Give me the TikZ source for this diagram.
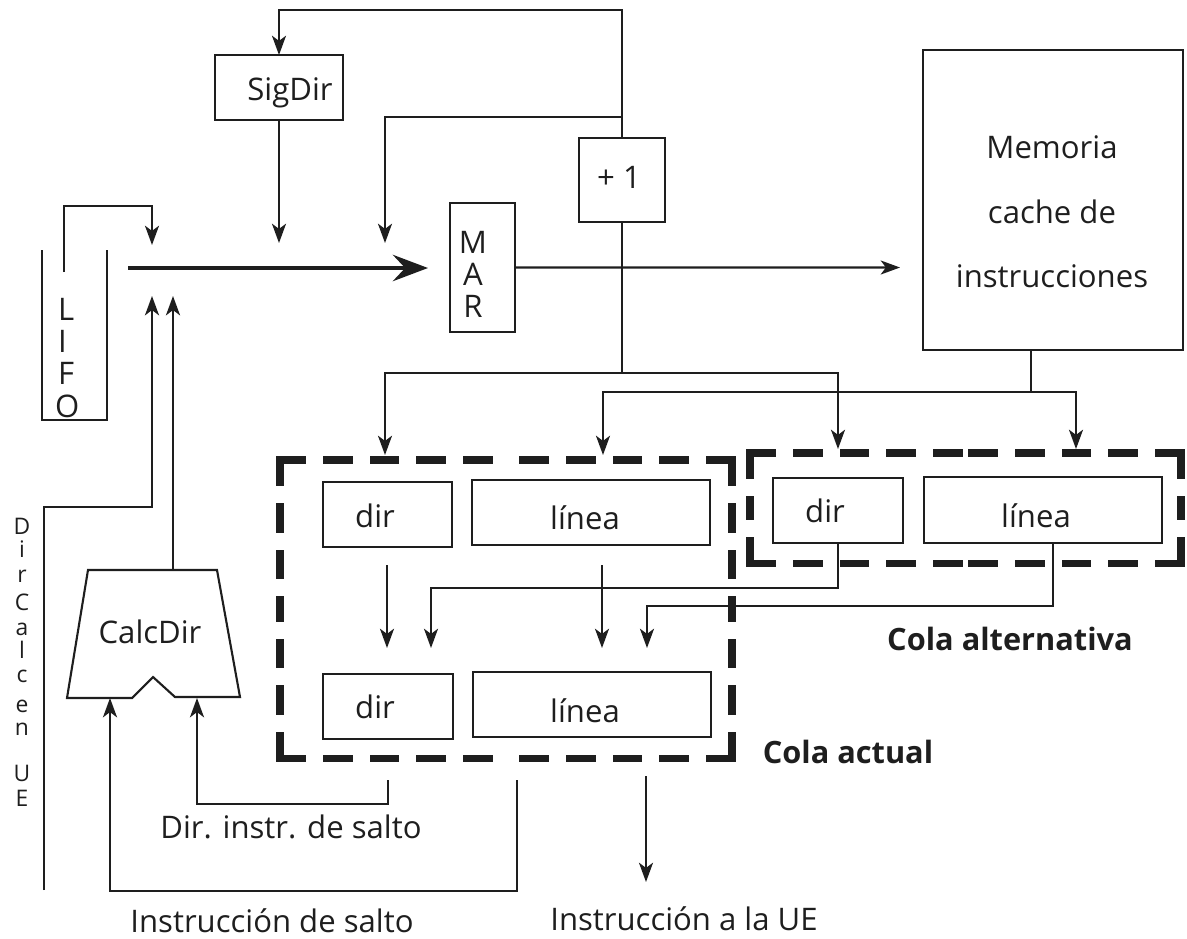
\documentclass[tikz,border=0pt]{standalone}
\usepackage{fontspec}
\setmainfont{Open Sans}
\usetikzlibrary{arrows.meta,fit,calc}
\definecolor{ink}{HTML}{1E1E1E}
\begin{document}
\begin{tikzpicture}[x=0.02cm,y=-0.02cm,
  every node/.style={font=\fontsize{17.7}{20}\selectfont, text=ink, inner sep=0pt, outer sep=0pt},
  lbl/.style={anchor=base},
  boldlbl/.style={anchor=base, font=\fontsize{17.5}{20}\selectfont\bfseries},
  vlet/.style={font=\fontsize{13}{15}\selectfont},
  wire/.style={draw=ink, line width=1.2pt},
  arr/.style={wire, -{Stealth[length=11pt,width=8pt,inset=3pt]}},
  busarr/.style={draw=ink, line width=2.4pt, -{Stealth[length=20pt,width=15pt,inset=7pt]}},
  box/.style={draw=ink, line width=1.2pt, line join=miter},
  area/.style={inner sep=0pt},
  dashbox/.style={draw=ink, line width=4pt, line cap=rect, dash pattern=on 13pt off 13.5pt},
]
\useasboundingbox (0,0) rectangle (1187,938);

% ---------- registers and cache ----------
\node[box, fit={(215,55) (343,120)}] (sigdir) {};
\node[lbl] (sigdirT) at (290,100) {SigDir};
\node[box, fit={(579,138) (665,222)}] (plus) {};
\node[lbl] (plusT) at (619,188) {+ 1};
\node[box, fit={(450,203) (515,332)}] (mar) {};
\node[lbl] (marM) at (473,253) {M};
\node[lbl] (marA) at (473,285) {A};
\node[lbl] (marR) at (473,317) {R};
\node[box, fit={(923,50) (1183,350)}] (cache) {};
\node[lbl] (cache1) at (1052,158) {Memoria};
\node[lbl] (cache2) at (1052,223) {cache de};
\node[lbl] (cache3) at (1052,287) {instrucciones};

% ---------- queues ----------
\node[area, fit={(280,460) (732,758)}] (curq) {};
\node[area, fit={(750,453) (1181,563)}] (altq) {};
\foreach \q in {curq, altq} {
  \draw[dashbox] (\q.north west) -- (\q.north);
  \draw[dashbox] (\q.north east) -- (\q.north);
  \draw[dashbox] (\q.south west) -- (\q.south);
  \draw[dashbox] (\q.south east) -- (\q.south);
  \draw[dashbox] (\q.north west) -- (\q.west);
  \draw[dashbox] (\q.south west) -- (\q.west);
  \draw[dashbox] (\q.north east) -- (\q.east);
  \draw[dashbox] (\q.south east) -- (\q.east);
}
\node[box, fill=white, fit={(323,482) (452,547)}] (dirA) {};
\node[box, fill=white, fit={(472,480) (710,545)}] (linA) {};
\node[box, fill=white, fit={(323,674) (453,739)}] (dirB) {};
\node[box, fill=white, fit={(473,672) (711,737)}] (linB) {};
\node[box, fill=white, fit={(773,478) (903,543)}] (altdir) {};
\node[box, fill=white, fit={(924,477) (1162,543)}] (altlin) {};
\node[lbl] (dirAT) at (375,527) {dir};
\node[lbl] (linAT) at (585,529) {línea};
\node[lbl] (dirBT) at (375,718) {dir};
\node[lbl] (linBT) at (585,722) {línea};
\node[lbl] (altdirT) at (825,522) {dir};
\node[lbl] (altlinT) at (1036,527) {línea};
\node[boldlbl] (altname) at (1010,650) {Cola alternativa};
\node[boldlbl] (curname) at (848,763) {Cola actual};

% ---------- LIFO stack ----------
\draw[wire] (42,250) -- (42,420) -- (107,420) -- (107,250);
\node[anchor=base west] (lifoL) at (58,320) {L};
\node[anchor=base west] (lifoI) at (58,352) {I};
\node[anchor=base west] (lifoF) at (58,384) {F};
\node[anchor=base west] (lifoO) at (55,417) {O};
\coordinate (lifoout) at (64,272);
\coordinate (lifoin) at (152,245);

% ---------- address calculator ----------
\draw[box] (88,570) -- (217,570) -- (240,697) -- (175,697) -- (153,677)
  -- (132,698) -- (67,698) -- cycle;
\node[lbl] (calc) at (150,643) {CalcDir};
\coordinate (calcTop) at (173,570);
\coordinate (calcL) at (110,698);
\coordinate (calcR) at (197,698);

% vertical label of the execution unit path
\foreach \ch/\yy [count=\k] in {D/526, i/549, r/576, C/602, a/629, l/650, c/676, e/706, n/729, U/773, E/798}
  \node[vlet] (ue\k) at (22,\yy) {\ch};

% ---------- bottom labels ----------
\node[lbl] (jmpaddr) at (291,838) {Dir. instr. de salto};
\node[lbl] (jmpins) at (272,932) {Instrucción de salto};
\node[lbl] (toue) at (684,930) {Instrucción a la UE};

% ---------- connectors ----------
\coordinate (topbend) at (279,10);
\coordinate (j1) at (622,117);
\coordinate (fbkin) at (385,243);
\coordinate (sigin) at (279,243);
\coordinate (busL) at (128,268);
\coordinate (busR) at (428,268);
\coordinate (cachein) at (900,267.5);
\coordinate (up1) at (152,296);
\coordinate (up2) at (173,296);
\coordinate (uebot) at (44,890);
\coordinate (j2) at (622,373);
\coordinate (curdirin) at (385,455);
\coordinate (altdirin) at (838,449);
\coordinate (cacheout) at (1031,350);
\coordinate (j3) at (1031,392);
\coordinate (curlinin) at (603,455);
\coordinate (altlinin) at (1076,449);

\draw[arr] (plus.north) |- (topbend) -- (sigdir.north);
\draw[arr] (j1) -| (fbkin);
\draw[arr] (sigdir.south) -- (sigin);
\draw[arr] (lifoout) -- (64,206) -| (lifoin);
\draw[busarr] (busL) -- (busR);
\draw[arr] (mar.east) -- (cachein);
\draw[arr] (uebot) -- (44,507) -| (up1);
\draw[arr] (calcTop) -- (up2);

\draw[wire] (plus.south) -- (j2);
\draw[arr] (j2) -| (curdirin);
\draw[arr] (j2) -| (altdirin);
\draw[wire] (cacheout) -- (j3);
\draw[arr] (j3) -| (curlinin);
\draw[arr] (j3) -| (altlinin);

\draw[arr] (387,565) -- (387,648);
\draw[arr] (602,565) -- (602,648);
\draw[arr] (altdir.south) -- (838,588) -| (431,648);
\draw[arr] (1053,543) -- (1053,606) -| (647,648);

\draw[arr] (388,780) -- (388,804) -| (calcR);
\draw[arr] (517,780) -- (517,891) -| (calcL);
\draw[arr] (646,776) -- (646,882);
\end{tikzpicture}
\end{document}
